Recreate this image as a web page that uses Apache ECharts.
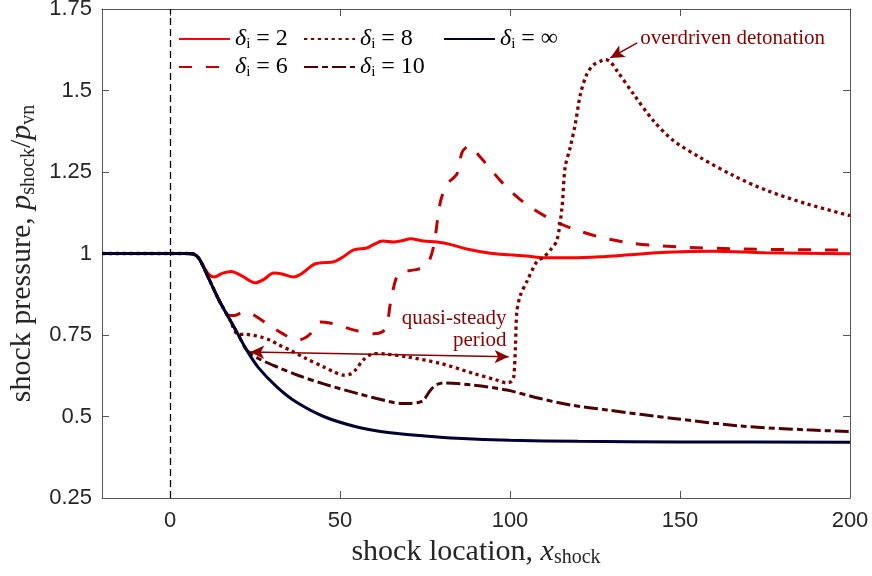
<!DOCTYPE html>
<html>
<head>
<meta charset="utf-8">
<script src="https://cdn.jsdelivr.net/npm/echarts@6/dist/echarts.min.js"></script>
<style>
  html, body { margin: 0; padding: 0; background: #fff; }
  #main { width: 872px; height: 576px; }
</style>
</head>
<body>
<div id="main"></div>
<script>
// 数据
const xTicks = [0, 50, 100, 150, 200];

const delta2 = [[-20, 1], [5, 1], [7, 0.998], [8.5, 0.985], [10, 0.958], [11.5, 0.935], [13, 0.928],
  [15.5, 0.94], [18, 0.945], [21, 0.932], [25, 0.91], [27.5, 0.92], [30.5, 0.94], [33, 0.937],
  [36.4, 0.928], [39, 0.94], [42.2, 0.966], [45, 0.972], [48, 0.974], [51, 0.99], [54, 1.011],
  [57.9, 1.017], [60, 1.028], [62.5, 1.038], [65.8, 1.035], [68.5, 1.04], [70.7, 1.045],
  [74.6, 1.038], [78.5, 1.035], [82.4, 1.028], [88, 1.012], [94.2, 1.001], [100, 0.996],
  [105, 0.992], [110, 0.987], [118, 0.987], [126.6, 0.99], [135, 0.996], [146, 1.004],
  [160, 1.007], [175, 1.002], [200, 0.999]];

const delta6 = [[-20, 1], [5, 1], [7, 0.998], [8.5, 0.985], [10, 0.955], [12, 0.91], [14.5, 0.855],
  [17, 0.812], [19, 0.81], [21.6, 0.82], [24, 0.815], [28.5, 0.785], [33, 0.755], [37.4, 0.734],
  [39.5, 0.74], [41.3, 0.754], [44.2, 0.79], [47, 0.787], [51, 0.775], [55, 0.763], [59.9, 0.754],
  [62.5, 0.76], [63.8, 0.78], [64.8, 0.846], [66.3, 0.917], [67.7, 0.943], [70.7, 0.948],
  [73, 0.952], [75.6, 0.965], [77.5, 1.02], [79.5, 1.157], [81.5, 1.213], [84.4, 1.244],
  [85.9, 1.31], [88, 1.33], [91.3, 1.295], [98.1, 1.213], [104, 1.157], [111.8, 1.106],
  [118.7, 1.075], [126.6, 1.05], [135.4, 1.032], [143.2, 1.024], [152, 1.019], [167.7, 1.014],
  [200, 1.01]];

const delta8 = [[-20, 1], [5, 1], [7, 0.998], [8.5, 0.985], [10, 0.955], [12, 0.91], [14.5, 0.855],
  [17.7, 0.795], [20, 0.752], [22, 0.752], [24.6, 0.749], [27, 0.743], [29.5, 0.734], [32, 0.72],
  [35.4, 0.703], [40, 0.678], [45.2, 0.652], [48, 0.638], [51, 0.627], [53, 0.63], [54.5, 0.642],
  [57, 0.675], [59.9, 0.693], [63, 0.692], [69.7, 0.683], [79.5, 0.663], [89.3, 0.632],
  [96, 0.612], [99.1, 0.603], [100.5, 0.608], [101.1, 0.622], [101.6, 0.713], [102, 0.82],
  [103, 0.87], [105, 0.915], [107.9, 0.975], [110, 0.99], [112, 1.012], [113.8, 1.04],
  [115.3, 1.142], [116.2, 1.264], [117.7, 1.325], [119.2, 1.397], [120.7, 1.488], [122.6, 1.55],
  [124.5, 1.578], [126.6, 1.59], [128, 1.595], [129.5, 1.588], [131.5, 1.56], [136.4, 1.488],
  [142.2, 1.407], [148.1, 1.346], [156, 1.294], [165.7, 1.239], [175.6, 1.193], [187.4, 1.152],
  [200, 1.116]];

const delta10 = [[-20, 1], [5, 1], [7, 0.998], [8.5, 0.985], [10, 0.955], [12, 0.91], [14.5, 0.855],
  [17.7, 0.795], [20, 0.752], [22.6, 0.703], [26, 0.678], [31.5, 0.652], [38, 0.625], [45.2, 0.6],
  [55, 0.571], [64.8, 0.545], [68, 0.54], [70.7, 0.54], [73, 0.543], [74.6, 0.55], [76, 0.572],
  [77.5, 0.591], [79, 0.6], [80.5, 0.603], [89.3, 0.596], [99.1, 0.581], [108.9, 0.555],
  [118, 0.535], [128.5, 0.52], [148.1, 0.494], [167.7, 0.471], [187.4, 0.459], [200, 0.454]];

const deltaInf = [[-20, 1], [5, 1], [7, 0.998], [8.5, 0.985], [10, 0.955], [12, 0.91], [14.5, 0.855],
  [17.7, 0.795], [20, 0.752], [22.6, 0.703], [26, 0.65], [31.5, 0.59], [37, 0.545], [45.2, 0.5],
  [55, 0.468], [64.8, 0.45], [75, 0.44], [84.4, 0.433], [100, 0.427], [120, 0.424], [150, 0.422],
  [200, 0.421]];

// 注释位置 (数据坐标)
const quasiArrow = [[23.6, 0.698], [99.6, 0.683]];
const overArrow = [[137.4, 1.646], [129.5, 1.6]];

const serif = '"Liberation Serif", "Times New Roman", serif';
const sans = '"Liberation Sans", Arial, sans-serif';
const noteColor = '#8b0000';

const legendRich = {
  d: { fontFamily: serif, fontStyle: 'italic', fontSize: 24, lineHeight: 26, color: '#000' },
  s: { fontFamily: serif, fontSize: 15, lineHeight: 14, verticalAlign: 'bottom', color: '#000' },
  n: { fontFamily: serif, fontSize: 24, lineHeight: 26, color: '#000' },
};

function legendText(name) {
  return '{d|δ}{s|i}{n| = ' + name.replace('δ = ', '') + '}';
}

function makeLegend(name, left, top) {
  return {
    data: [name],
    left: left,
    top: top,
    padding: 0,
    itemWidth: 51,
    itemHeight: 26,
    selectedMode: false,
    itemStyle: { opacity: 0 },
    formatter: legendText,
    textStyle: { rich: legendRich },
  };
}

function makeLine(name, data, color, type, width) {
  return {
    name: name,
    type: 'line',
    data: data,
    symbol: 'none',
    smooth: 0.3,
    lineStyle: { color: color, width: width || 3, type: type, cap: 'butt' },
    itemStyle: { color: color },
    emphasis: { disabled: true },
  };
}

let chart = echarts.init(document.getElementById('main'));

const axisColor = '#555';
const labelStyle = { fontFamily: sans, fontSize: 22, color: '#262626' };
const nameRich = {
  t: { fontFamily: serif, fontSize: 30, lineHeight: 32, color: '#262626' },
  v: { fontFamily: serif, fontStyle: 'italic', fontSize: 30, lineHeight: 32, color: '#262626' },
  s: { fontFamily: serif, fontSize: 20, lineHeight: 19, verticalAlign: 'bottom', color: '#262626' },
};

let s8 = makeLine('δ = 8', delta8, '#800000', [3.3, 3.6], 3.3);
s8.markLine = {
  silent: true,
  animation: false,
  label: { show: false },
  lineStyle: { color: noteColor, width: 1.5, type: 'solid' },
  symbolSize: [10, 14],
  data: [
    [{ coord: quasiArrow[0], symbol: 'arrow' }, { coord: quasiArrow[1], symbol: 'arrow' }],
    [{ coord: overArrow[0], symbol: 'none' }, { coord: overArrow[1], symbol: 'arrow' }],
  ],
};

let sInf = makeLine('δ = ∞', deltaInf, '#000033', 'solid');
sInf.markLine = {
  silent: true,
  animation: false,
  symbol: 'none',
  label: { show: false },
  lineStyle: { color: '#000', width: 1.3, type: [7, 4] },
  data: [{ xAxis: 0 }],
};

let option = {
  animation: false,
  grid: { left: 102, right: 22, top: 9, bottom: 78, outerBoundsMode: 'none', containLabel: false },
  legend: [
    makeLegend('δ = 2', 178, 27),
    makeLegend('δ = 8', 303, 27),
    makeLegend('δ = ∞', 443, 27),
    makeLegend('δ = 6', 178, 55),
    makeLegend('δ = 10', 303, 55),
  ],
  xAxis: [
    {
      type: 'value',
      min: -20,
      max: 200,
      name: '{t|shock location, }{v|x}{s|shock}',
      nameLocation: 'middle',
      nameGap: 33,
      nameTextStyle: { rich: nameRich },
      axisLine: { onZero: false, lineStyle: { color: axisColor } },
      axisTick: { inside: true, length: 7, customValues: xTicks, lineStyle: { color: axisColor } },
      axisLabel: { customValues: xTicks, margin: 12, ...labelStyle },
      splitLine: { show: false },
    },
    {
      type: 'value',
      position: 'top',
      min: -20,
      max: 200,
      axisLine: { onZero: false, lineStyle: { color: axisColor } },
      axisTick: { inside: true, length: 7, customValues: xTicks, lineStyle: { color: axisColor } },
      axisLabel: { show: false },
      splitLine: { show: false },
    },
  ],
  yAxis: [
    {
      type: 'value',
      min: 0.25,
      max: 1.75,
      interval: 0.25,
      name: '{t|shock pressure, }{v|p}{s|shock}{t|/}{v|p}{s|vn}',
      nameLocation: 'middle',
      nameGap: 60,
      nameTextStyle: { rich: nameRich },
      axisLine: { show: true, onZero: false, lineStyle: { color: axisColor } },
      axisTick: { inside: true, length: 7, lineStyle: { color: axisColor } },
      axisLabel: { margin: 10, ...labelStyle },
      splitLine: { show: false },
    },
    {
      type: 'value',
      position: 'right',
      min: 0.25,
      max: 1.75,
      interval: 0.25,
      axisLine: { show: true, onZero: false, lineStyle: { color: axisColor } },
      axisTick: { inside: true, length: 7, lineStyle: { color: axisColor } },
      axisLabel: { show: false },
      splitLine: { show: false },
    },
  ],
  series: [
    makeLine('δ = 2', delta2, '#ff0000', 'solid'),
    makeLine('δ = 6', delta6, '#c00000', [13, 14]),
    s8,
    makeLine('δ = 10', delta10, '#4d0000', [14, 4, 6, 4]),
    sInf,
  ],
};

chart.setOption(option);

// 文字注释
function notePos(x, y) {
  return chart.convertToPixel({ gridIndex: 0 }, [x, y]);
}
const noteFont = '21px ' + serif;
let p1 = notePos(138.3, 1.66);
let p2 = notePos(99, 0.80);
let p3 = notePos(99, 0.734);
chart.setOption({
  graphic: [
    { type: 'text', x: p1[0], y: p1[1], silent: true,
      style: { text: 'overdriven detonation', font: noteFont, fill: noteColor, textAlign: 'left', textVerticalAlign: 'middle' } },
    { type: 'text', x: p2[0], y: p2[1], silent: true,
      style: { text: 'quasi-steady', font: noteFont, fill: noteColor, textAlign: 'right', textVerticalAlign: 'middle' } },
    { type: 'text', x: p3[0], y: p3[1], silent: true,
      style: { text: 'period', font: noteFont, fill: noteColor, textAlign: 'right', textVerticalAlign: 'middle' } },
  ],
});
</script>
</body>
</html>
